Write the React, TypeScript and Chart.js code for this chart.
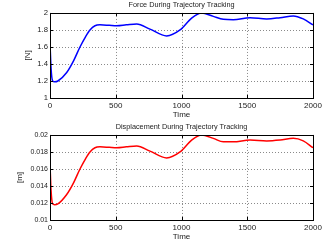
import React, { useEffect, useRef } from "react";
import { Chart, registerables } from "chart.js";

Chart.register(...registerables);

const forceTime = [0, 8, 20, 35, 60, 127, 180, 228, 270, 304, 342, 380, 450, 507, 580, 659, 760, 887, 989, 1077, 1153, 1242, 1318, 1394, 1521, 1648, 1750, 1850, 1926, 2000];
const forceValues = [1.64, 1.35, 1.2, 1.19, 1.2, 1.3, 1.44, 1.6, 1.72, 1.8, 1.85, 1.86, 1.855, 1.85, 1.86, 1.87, 1.81, 1.73, 1.8, 1.94, 2.0, 1.96, 1.925, 1.92, 1.945, 1.93, 1.945, 1.965, 1.93, 1.86];

const dispTime = [0, 8, 20, 35, 60, 127, 180, 228, 270, 304, 342, 380, 450, 507, 580, 659, 760, 887, 989, 1077, 1153, 1242, 1318, 1394, 1521, 1648, 1750, 1850, 1926, 2000];
const dispValues = [0.0165, 0.0135, 0.0119, 0.0118, 0.0119, 0.013, 0.0144, 0.016, 0.0172, 0.018, 0.0185, 0.0186, 0.01855, 0.0185, 0.0186, 0.0187, 0.0181, 0.0173, 0.018, 0.0194, 0.02, 0.0196, 0.0192, 0.0192, 0.0194, 0.0193, 0.0194, 0.0196, 0.0193, 0.0185];

const FONT = "'Liberation Sans', Arial, Helvetica, sans-serif";
const TEXT = "#222";

const boxPlugin = {
  id: "matlabBox",
  beforeDatasetsDraw(chart: any) {
    const { ctx, chartArea, scales } = chart;
    const { left, right, top, bottom } = chartArea;
    ctx.save();
    ctx.strokeStyle = "#8a8a8a";
    ctx.lineWidth = 1;
    ctx.setLineDash([1, 2]);
    ctx.beginPath();
    scales.x.ticks.forEach((t: any) => {
      const px = Math.round(scales.x.getPixelForValue(t.value)) + 0.5;
      ctx.moveTo(px, top);
      ctx.lineTo(px, bottom);
    });
    scales.y.ticks.forEach((t: any) => {
      const py = Math.round(scales.y.getPixelForValue(t.value)) + 0.5;
      ctx.moveTo(left, py);
      ctx.lineTo(right, py);
    });
    ctx.stroke();
    ctx.restore();
  },
  afterDraw(chart: any) {
    const { ctx, chartArea, scales } = chart;
    const { left, right, top, bottom } = chartArea;
    ctx.save();
    ctx.strokeStyle = "#000";
    ctx.lineWidth = 1;
    const len = 3;
    ctx.beginPath();
    scales.x.ticks.forEach((t: any) => {
      const px = Math.round(scales.x.getPixelForValue(t.value)) + 0.5;
      ctx.moveTo(px, bottom);
      ctx.lineTo(px, bottom - len);
      ctx.moveTo(px, top);
      ctx.lineTo(px, top + len);
    });
    scales.y.ticks.forEach((t: any) => {
      const py = Math.round(scales.y.getPixelForValue(t.value)) + 0.5;
      ctx.moveTo(left, py);
      ctx.lineTo(left + len, py);
      ctx.moveTo(right, py);
      ctx.lineTo(right - len, py);
    });
    ctx.stroke();
    ctx.strokeRect(Math.round(left) + 0.5, Math.round(top) + 0.5, Math.round(right - left), Math.round(bottom - top));
    ctx.restore();
  },
};

function fmt(v: number) {
  return String(parseFloat(Number(v).toFixed(4)));
}

function makeConfig(title: string, yLabel: string, yLabelPad: number, yTickSize: number, xs: number[], ys: number[], color: string, yMin: number, yMax: number, yStep: number) {
  return {
    type: "line",
    data: {
      datasets: [
        {
          data: xs.map((x, i) => ({ x, y: ys[i] })),
          borderColor: color,
          borderWidth: 1.5,
          pointRadius: 0,
          cubicInterpolationMode: "monotone",
          fill: false,
        },
      ],
    },
    options: {
      responsive: false,
      animation: false,
      layout: { padding: { left: 0, right: 13, top: 0, bottom: 0 } },
      plugins: {
        legend: { display: false },
        tooltip: { enabled: false },
        title: {
          display: true,
          fullSize: false,
          text: title,
          color: TEXT,
          font: { family: FONT, size: 7.3, weight: "normal" },
          padding: { top: 0.5, bottom: 3.7 },
        },
      },
      scales: {
        x: {
          type: "linear",
          min: 0,
          max: 2000,
          ticks: { stepSize: 500, color: TEXT, font: { family: FONT, size: 8 }, padding: 3, maxRotation: 0, callback: (v: number) => fmt(v) },
          grid: { display: false, drawTicks: false },
          border: { display: false },
          title: { display: true, text: "Time", color: TEXT, font: { family: FONT, size: 8 }, padding: { top: 0, bottom: 2 } },
          afterFit(scale: any) {
            scale.height = 24;
          },
        },
        y: {
          type: "linear",
          min: yMin,
          max: yMax,
          ticks: { stepSize: yStep, color: TEXT, font: { family: FONT, size: yTickSize }, padding: 2, callback: (v: number) => fmt(v) },
          grid: { display: false, drawTicks: false },
          border: { display: false },
          title: { display: true, text: yLabel, color: TEXT, font: { family: FONT, size: 8 }, padding: { top: yLabelPad, bottom: 0 } },
          afterFit(scale: any) {
            scale.width = 50;
          },
        },
      },
    },
    plugins: [boxPlugin],
  };
}

function Panel(props: { cfg: any }) {
  const ref = useRef<HTMLCanvasElement>(null);
  useEffect(() => {
    const chart = new Chart(ref.current as HTMLCanvasElement, props.cfg);
    return () => chart.destroy();
  }, []);
  return <canvas ref={ref} width={326} height={122} style={{ display: "block", width: 326, height: 122 }} />;
}

export default function App() {
  const top = makeConfig("Force During Trajectory Tracking", "[N]", 23, 7.7, forceTime, forceValues, "#0000ff", 1, 2, 0.2);
  const bottom = makeConfig("Displacement During Trajectory Tracking", "[m]", 15, 7, dispTime, dispValues, "#ff0000", 0.01, 0.02, 0.002);
  return (
    <div style={{ position: "absolute", left: 0, top: 0, width: 326, height: 244, background: "#fff" }}>
      <Panel cfg={top} />
      <Panel cfg={bottom} />
    </div>
  );
}
